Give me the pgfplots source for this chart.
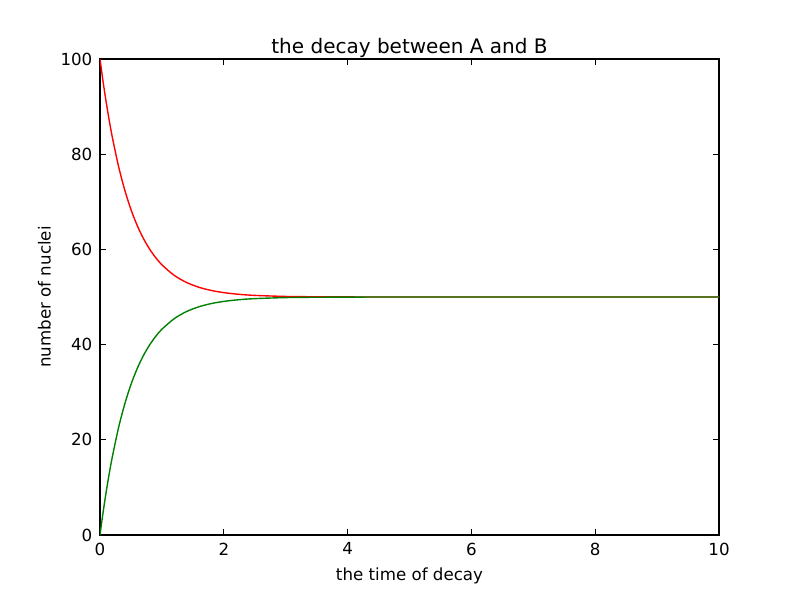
\documentclass[border=0pt]{standalone}
\usepackage{fontspec}
\setmainfont{DejaVu Sans}
\usepackage{pgfplots}
\pgfplotsset{compat=1.18}

\begin{document}
\begin{tikzpicture}
\begin{axis}[
    scale only axis,
    width=445.7pt, height=342.7pt,
    xmin=0, xmax=10, ymin=0, ymax=100,
    xtick={0,2,...,10}, ytick={0,20,...,100},
    tick align=inside,
    major tick length=4pt,
    minor tick num=0,
    axis line style={line width=0.8pt},
    every tick/.style={black, line width=0.6pt},
    /pgf/number format/assume math mode=true,
    tick label style={font=\fontsize{12}{14}\selectfont},
    label style={font=\fontsize{12}{14}\selectfont},
    title style={font=\fontsize{14.4}{16}\selectfont, at={(0.5,1)}, anchor=south, yshift=-8.5pt},
    title={the decay between A and B},
    xlabel={the time of decay},
    ylabel={number of nuclei},
    xlabel style={yshift=-2pt},
    xticklabel style={yshift=-2pt},
    yticklabel style={xshift=-2pt},
]
% N_A
\addplot[red, line width=1pt, smooth] coordinates {
    (0,100) (0.05,95.24) (0.1,90.94) (0.15,87.04) (0.2,83.52) (0.3,77.44)
    (0.4,72.47) (0.5,68.39) (0.6,65.06) (0.7,62.33) (0.8,60.10) (0.9,58.27)
    (1.0,56.77) (1.2,54.54) (1.4,53.04) (1.6,52.04) (1.8,51.37) (2.0,50.92)
    (2.25,50.56) (2.5,50.34) (3.0,50.12) (3.5,50.05) (4,50.02) (5,50) (10,50)
};
% N_B
\addplot[green!50!black, line width=1pt, smooth] coordinates {
    (0,0) (0.05,4.76) (0.1,9.06) (0.15,12.96) (0.2,16.48) (0.3,22.56)
    (0.4,27.53) (0.5,31.61) (0.6,34.94) (0.7,37.67) (0.8,39.90) (0.9,41.73)
    (1.0,43.23) (1.2,45.46) (1.4,46.96) (1.6,47.96) (1.8,48.63) (2.0,49.08)
    (2.25,49.44) (2.5,49.66) (3.0,49.88) (3.5,49.95) (4,49.98) (5,50) (10,50)
};
\end{axis}
\pgfresetboundingbox
\path ([shift={(-72pt,-43.9pt)}]current axis.south west)
    rectangle ([shift={(58.3pt,42.5pt)}]current axis.north east);
\end{tikzpicture}
\end{document}
